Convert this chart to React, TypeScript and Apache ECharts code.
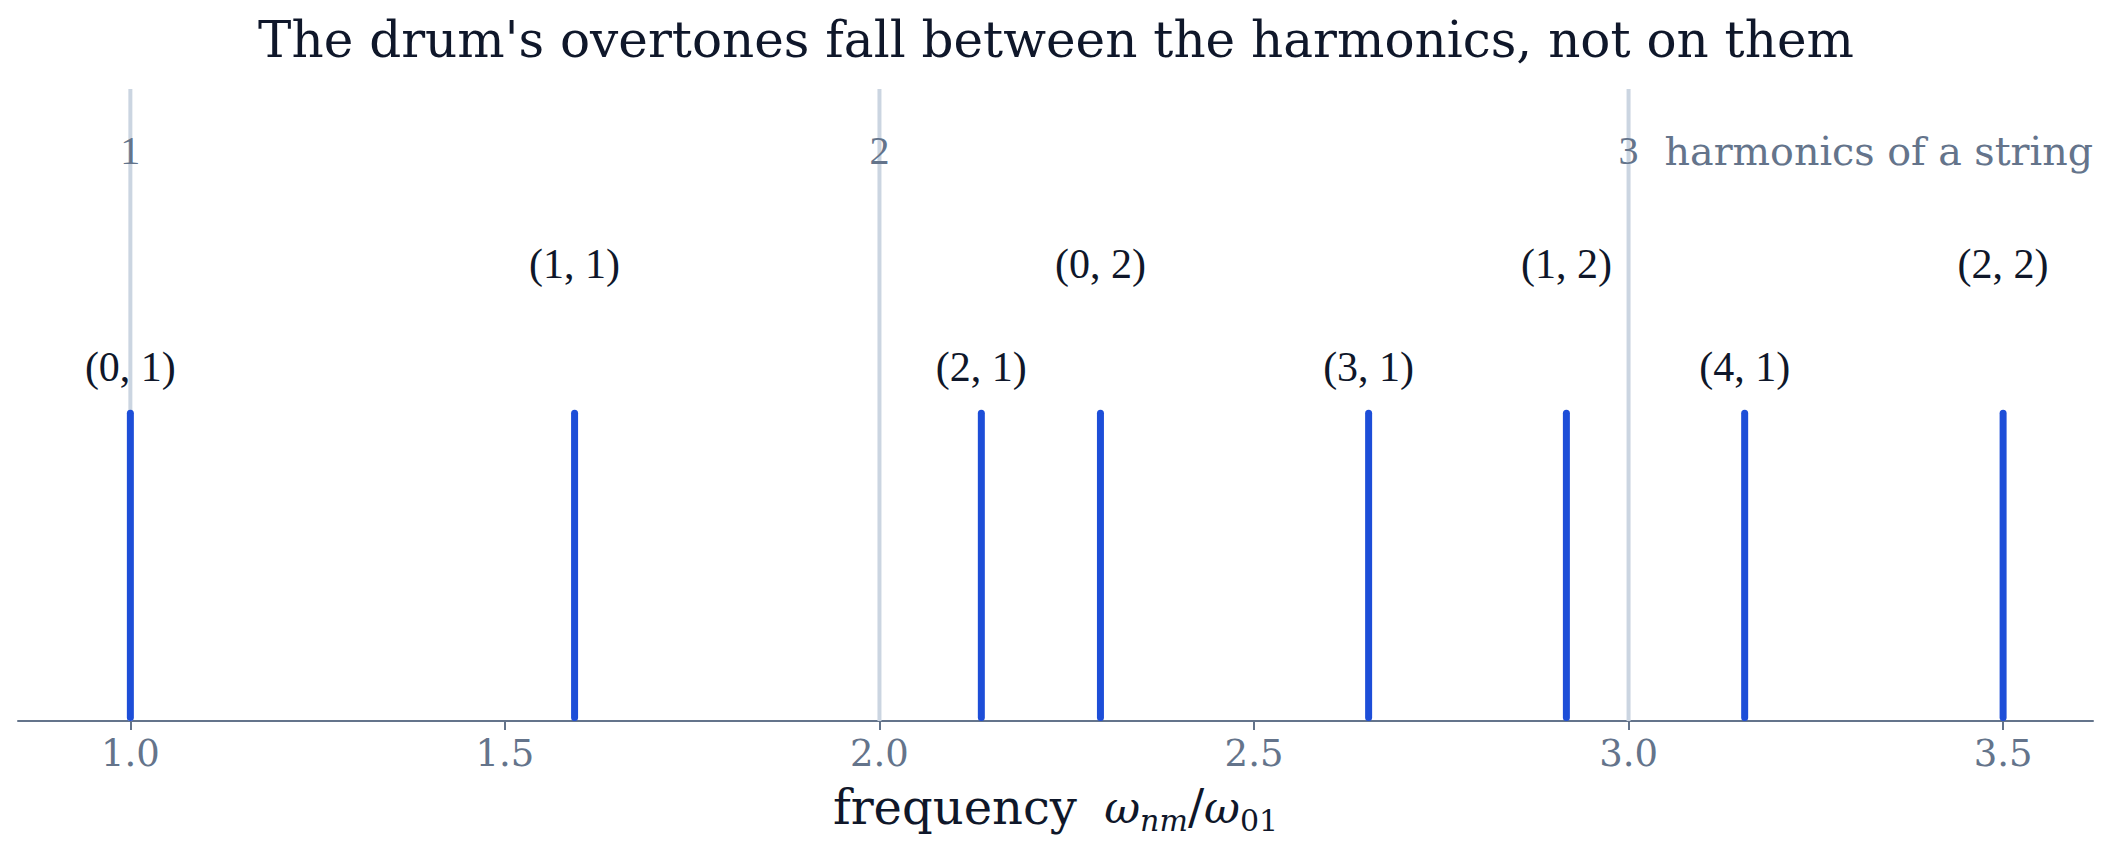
import {useEffect, useRef} from 'react';
import * as echarts from 'echarts';

// drum modes (n, m) and their frequency ratio to the fundamental
const MODE_LABELS = ['(0, 1)', '(1, 1)', '(2, 1)', '(0, 2)', '(3, 1)', '(1, 2)', '(4, 1)', '(2, 2)'];
const FREQ_RATIOS = [1.0, 1.593, 2.136, 2.295, 2.653, 2.917, 3.155, 3.5];
const AMPLITUDES = [1, 1, 1, 1, 1, 1, 1, 1];

// string harmonics
const HARMONICS = [1, 2, 3];
const HARMONIC_NOTE = 'harmonics of a string';

const X_TICKS = [1.0, 1.5, 2.0, 2.5, 3.0, 3.5];

const TITLE = "The drum's overtones fall between the harmonics, not on them";

const X_MIN = 0.85;
const X_MAX = 3.62;
const Y_MAX = 2.03;
const LOW_LABEL_Y = 1.138;
const HIGH_LABEL_Y = 1.469;
const HARMONIC_LABEL_Y = 1.832;

const INK = '#0f172a';
const MUTED = '#64748b';
const GRID = '#cbd5e1';
const STEM = '#1d4ed8';
const SERIF = '"DejaVu Serif", serif';
const MATH = '"Liberation Serif", serif';

const App = () => {
    const chartRef = useRef<HTMLDivElement>(null);

    useEffect(() => {
        document.body.style.margin = '0';
        const chart = echarts.init(chartRef.current!, null, {renderer: 'svg'});

        chart.setOption({
            animation: false,
            title: {
                text: TITLE,
                left: 'center',
                top: 10,
                textStyle: {fontFamily: SERIF, fontSize: 50, fontWeight: 'normal', color: INK},
            },
            grid: {left: 18, right: 19, top: 89, bottom: 137, containLabel: false},
            xAxis: {
                type: 'value',
                min: X_MIN,
                max: X_MAX,
                splitLine: {show: false},
                axisLine: {show: true, onZero: false, lineStyle: {color: MUTED, width: 2}},
                axisTick: {show: true, customValues: X_TICKS, length: 9, lineStyle: {color: MUTED, width: 2}},
                axisLabel: {
                    customValues: X_TICKS,
                    formatter: (v: number) => v.toFixed(1),
                    fontFamily: SERIF,
                    fontSize: 37,
                    color: MUTED,
                    margin: 14,
                },
                // ω_nm / ω_01 written with rich-text sub-scripts
                name: '{t|frequency }{g|}{w|ω}{s|nm}{t|/}{w|ω}{d|01}',
                nameLocation: 'middle',
                nameGap: 58,
                nameTextStyle: {
                    rich: {
                        t: {fontFamily: SERIF, fontSize: 48, color: INK, lineHeight: 56, verticalAlign: 'middle'},
                        g: {width: 12, lineHeight: 56},
                        w: {
                            fontFamily: SERIF,
                            fontStyle: 'italic',
                            fontSize: 44,
                            color: INK,
                            lineHeight: 56,
                            verticalAlign: 'middle',
                        },
                        s: {
                            fontFamily: SERIF,
                            fontStyle: 'italic',
                            fontSize: 30,
                            color: INK,
                            lineHeight: 46,
                            verticalAlign: 'bottom',
                        },
                        d: {
                            fontFamily: SERIF,
                            fontSize: 30,
                            color: INK,
                            lineHeight: 46,
                            verticalAlign: 'bottom',
                        },
                    },
                },
            },
            yAxis: {type: 'value', min: 0, max: Y_MAX, show: false},
            series: [
                {
                    type: 'custom',
                    z: 1,
                    data: HARMONICS.map((h) => [h]),
                    renderItem: (params: any, api: any) => {
                        const h = api.value(0);
                        const p0 = api.coord([h, 0]);
                        const p1 = api.coord([h, Y_MAX]);
                        const pl = api.coord([h, HARMONIC_LABEL_Y]);
                        const children: any[] = [
                            {
                                type: 'line',
                                shape: {x1: p0[0], y1: p0[1], x2: p1[0], y2: p1[1]},
                                style: {stroke: GRID, lineWidth: 4},
                            },
                            {
                                type: 'text',
                                x: pl[0],
                                y: pl[1],
                                style: {
                                    text: String(h),
                                    fill: MUTED,
                                    fontFamily: MATH,
                                    fontSize: 40,
                                    align: 'center',
                                    verticalAlign: 'middle',
                                },
                            },
                        ];
                        if (params.dataIndex === HARMONICS.length - 1) {
                            children.push({
                                type: 'text',
                                x: pl[0] + 36,
                                y: pl[1],
                                style: {
                                    text: HARMONIC_NOTE,
                                    fill: MUTED,
                                    fontFamily: SERIF,
                                    fontSize: 39.6,
                                    align: 'left',
                                    verticalAlign: 'middle',
                                },
                            });
                        }
                        return {type: 'group', children};
                    },
                },
                {
                    type: 'custom',
                    z: 2,
                    data: FREQ_RATIOS.map((f, i) => [f, AMPLITUDES[i]]),
                    renderItem: (params: any, api: any) => {
                        const p0 = api.coord([api.value(0), 0]);
                        const p1 = api.coord([api.value(0), api.value(1)]);
                        return {
                            type: 'line',
                            shape: {x1: p0[0], y1: p0[1] - 3.5, x2: p1[0], y2: p1[1] + 3.5},
                            style: {stroke: STEM, lineWidth: 7, lineCap: 'round'},
                        };
                    },
                },
                {
                    type: 'custom',
                    z: 3,
                    data: FREQ_RATIOS.map((f, i) => [f, i % 2 === 0 ? LOW_LABEL_Y : HIGH_LABEL_Y]),
                    renderItem: (params: any, api: any) => {
                        const p = api.coord([api.value(0), api.value(1)]);
                        return {
                            type: 'text',
                            x: p[0],
                            y: p[1],
                            style: {
                                text: MODE_LABELS[params.dataIndex],
                                fill: INK,
                                fontFamily: MATH,
                                fontSize: 42,
                                align: 'center',
                                verticalAlign: 'middle',
                            },
                        };
                    },
                },
            ],
        });

        return () => {
            chart.dispose();
        };
    }, []);

    return <div ref={chartRef} style={{width: '2112px', height: '858px'}} />;
};

export default App;
